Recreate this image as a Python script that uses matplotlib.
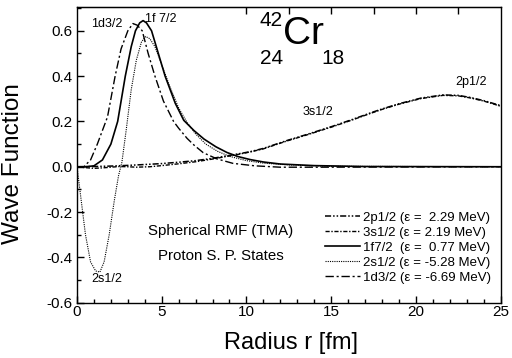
import numpy as np
import matplotlib
matplotlib.use("Agg")
import matplotlib.pyplot as plt
from matplotlib.ticker import MultipleLocator, FormatStrFormatter

plt.rcParams['font.family'] = ['Liberation Sans', 'DejaVu Sans']

# 1f7/2 (solid)
r_1f = [0, 0.5, 1.0, 1.5, 2.0, 2.4, 2.85, 3.2, 3.45, 3.7, 3.9, 4.1, 4.4, 4.8,
        5.2, 5.8, 6.3, 6.9, 7.5, 8.2, 8.85, 9.5, 10.2, 11.0, 12.0, 14.0, 17.0, 25.0]
y_1f = [0, 0.0, 0.004, 0.03, 0.10, 0.20, 0.40, 0.53, 0.60, 0.635, 0.645, 0.635,
        0.60, 0.50, 0.40, 0.28, 0.205, 0.16, 0.122, 0.088, 0.063, 0.045, 0.032,
        0.021, 0.012, 0.005, 0.001, 0.0]

# 1d3/2 (dash-dot)
r_1d = [0, 0.4, 0.8, 1.2, 1.5, 1.8, 2.25, 2.6, 3.0, 3.3, 3.55, 3.85, 4.2, 4.6,
        5.1, 5.7, 6.0, 6.5, 6.9, 7.45, 8.25, 9.2, 10.5, 12.0, 14.0, 25.0]
y_1d = [0, 0.0, 0.03, 0.10, 0.16, 0.22, 0.40, 0.52, 0.60, 0.632, 0.625, 0.60,
        0.50, 0.40, 0.29, 0.20, 0.17, 0.125, 0.096, 0.062, 0.035, 0.015, 0.004,
        -0.002, -0.002, 0.0]

# 2s1/2 (dotted)
r_2s = [0, 0.2, 0.5, 0.8, 1.1, 1.35, 1.6, 1.9, 2.2, 2.45, 2.65, 2.9, 3.2, 3.5,
        3.8, 4.05, 4.3, 4.6, 5.0, 5.5, 6.0, 6.5, 7.0, 7.6, 8.3, 9.0, 10.0,
        11.0, 12.5, 15.0, 25.0]
y_2s = [0, -0.12, -0.30, -0.42, -0.46, -0.465, -0.42, -0.30, -0.15, -0.04, 0.02,
        0.16, 0.34, 0.47, 0.55, 0.575, 0.565, 0.53, 0.45, 0.35, 0.26, 0.195,
        0.145, 0.10, 0.068, 0.046, 0.027, 0.016, 0.008, 0.002, 0.0]

# 3s1/2 (dash-dot, dense)
r_3s = [0, 0.5, 1.0, 1.5, 2.0, 2.5, 3.0, 3.5, 4.3, 5.0, 6.0, 7.0, 8.0, 9.6,
        10.2, 11.0, 12.4, 13.5, 15.1, 16.3, 17.3, 18.0, 19.0, 20.3, 21.6,
        22.5, 23.2, 24.0, 24.5, 25.0]
y_3s = [0, -0.004, -0.007, -0.005, -0.002, 0.001, 0.0, -0.002, 0.0, 0.005,
        0.013, 0.022, 0.034, 0.056, 0.065, 0.079, 0.114, 0.139, 0.177, 0.208,
        0.235, 0.253, 0.276, 0.301, 0.315, 0.313, 0.304, 0.29, 0.279, 0.267]

# 2p1/2 (dash-dot-dot)
r_2p = [0, 1.0, 2.0, 3.0, 4.3, 5.0, 6.0, 7.0, 8.0, 9.6, 10.2, 11.0, 12.4,
        13.5, 15.1, 16.3, 17.3, 18.0, 19.0, 20.3, 21.6, 22.5, 23.2, 24.0,
        24.5, 25.0]
y_2p = [0, 0.001, 0.003, 0.006, 0.011, 0.014, 0.02, 0.027, 0.037, 0.058,
        0.066, 0.081, 0.116, 0.141, 0.179, 0.21, 0.237, 0.255, 0.278, 0.303,
        0.317, 0.315, 0.306, 0.292, 0.281, 0.27]

legend_labels = ['2p1/2 (\u03b5 =  2.29 MeV)', '3s1/2 (\u03b5 = 2.19 MeV)',
                 '1f7/2  (\u03b5 =  0.77 MeV)', '2s1/2 (\u03b5 = -5.28 MeV)',
                 '1d3/2 (\u03b5 = -6.69 MeV)']

fig = plt.figure(figsize=(5.12, 3.58), dpi=100)
ax = fig.add_axes([0.1504, 0.1545, 0.8273, 0.8259])

h2p, = ax.plot(r_2p, y_2p, color='k', lw=1.1, ls=(0, (4, 1.3, 1, 1.3, 1, 1.3)))
h3s, = ax.plot(r_3s, y_3s, color='k', lw=1.0, ls=(0, (3, 1.2, 1, 1.2)))
h1f, = ax.plot(r_1f, y_1f, color='k', lw=1.2, ls='-')
h2s, = ax.plot(r_2s, y_2s, color='k', lw=0.8, ls=(0, (1, 1)))
h1d, = ax.plot(r_1d, y_1d, color='k', lw=1.0, ls=(0, (6, 2, 1.5, 2)))

ax.set_xlim(0, 25)
ax.set_ylim(-0.6, 0.705)
ax.xaxis.set_major_locator(MultipleLocator(5))
ax.xaxis.set_minor_locator(MultipleLocator(1))
ax.yaxis.set_major_locator(MultipleLocator(0.2))
ax.yaxis.set_minor_locator(MultipleLocator(0.1))
ax.yaxis.set_major_formatter(FormatStrFormatter('%.1f'))
ax.tick_params(which='both', direction='in', labelsize=11, width=1)
ax.tick_params(which='major', length=5, pad=3)
ax.tick_params(which='minor', length=3)
ax.tick_params(axis='x', pad=2)

top = ax.secondary_xaxis('top')
top.set_xticks([10, 12.5, 15, 17.5, 20, 22.5])
top.tick_params(direction='in', length=5, labeltop=False, width=1)

for s in ax.spines.values():
    s.set_linewidth(1.0)

ax.set_xlabel('Radius r [fm]', fontsize=17)
ax.set_ylabel('Wave Function', fontsize=17.5)
ax.xaxis.set_label_coords(0.505, -0.099)
ax.yaxis.set_label_coords(-0.125, 0.471)

# state labels
ax.text(1.78, 0.63, '1d3/2', fontsize=9, ha='center', va='center')
ax.text(4.97, 0.652, '1f 7/2', fontsize=9, ha='center', va='center')
ax.text(1.78, -0.495, '2s1/2', fontsize=9, ha='center', va='center')
ax.text(14.2, 0.241, '3s1/2', fontsize=9, ha='center', va='center')
ax.text(23.25, 0.374, '2p1/2', fontsize=9, ha='center', va='center')

ax.text(8.5, -0.283, 'Spherical RMF (TMA)', fontsize=10.8, ha='center', va='center')
ax.text(8.5, -0.394, 'Proton S. P. States', fontsize=10.8, ha='center', va='center')

# nucleus symbol
fig.text(283 / 512, 1 - 34 / 358, 'Cr', fontsize=28, ha='left', va='center')
fig.text(260 / 512, 1 - 20.5 / 358, '42', fontsize=15, ha='left', va='center')
fig.text(260 / 512, 1 - 59 / 358, '24', fontsize=15, ha='left', va='center')
fig.text(321 / 512, 1 - 58.5 / 358, '18', fontsize=15, ha='left', va='center')

leg = ax.legend([h2p, h3s, h1f, h2s, h1d], legend_labels, loc='lower right',
                bbox_to_anchor=(0.99, 0.045), frameon=False, fontsize=9.5,
                handlelength=2.6, handletextpad=0.25, labelspacing=0.22,
                borderaxespad=0)

fig.savefig('out.png', dpi=100)
